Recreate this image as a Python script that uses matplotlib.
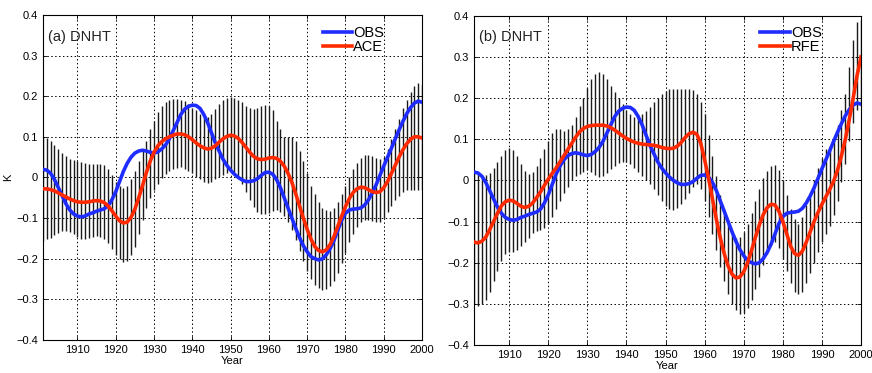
import numpy as np
import matplotlib
matplotlib.use("Agg")
from matplotlib import pyplot as plt

years = np.arange(1901, 2001)

# observed DNHT (same curve in both panels)
obs = [0.020, 0.018, 0.010, -0.005, -0.025, -0.045, -0.065, -0.080, -0.090, -0.095,
       -0.097, -0.095, -0.090, -0.087, -0.083, -0.080, -0.077, -0.070, -0.055, -0.035,
       -0.010, 0.015, 0.035, 0.050, 0.060, 0.065, 0.067, 0.065, 0.062, 0.060,
       0.063, 0.070, 0.080, 0.095, 0.115, 0.135, 0.155, 0.168, 0.175, 0.178,
       0.177, 0.170, 0.155, 0.135, 0.110, 0.085, 0.065, 0.045, 0.030, 0.018,
       0.008, 0.000, -0.006, -0.010, -0.010, -0.008, -0.003, 0.005, 0.012, 0.013,
       0.008, -0.005, -0.025, -0.050, -0.075, -0.100, -0.125, -0.148, -0.168, -0.183,
       -0.195, -0.200, -0.203, -0.200, -0.190, -0.175, -0.155, -0.130, -0.105, -0.088,
       -0.080, -0.078, -0.077, -0.075, -0.068, -0.055, -0.038, -0.018, 0.005, 0.028,
       0.050, 0.072, 0.095, 0.117, 0.138, 0.157, 0.172, 0.183, 0.188, 0.185]

# (a) ACE and its spread
ace = [-0.028, -0.028, -0.030, -0.033, -0.038, -0.043, -0.048, -0.053, -0.057, -0.060,
       -0.061, -0.061, -0.060, -0.058, -0.057, -0.058, -0.062, -0.070, -0.082, -0.095,
       -0.107, -0.112, -0.110, -0.098, -0.078, -0.050, -0.020, 0.012, 0.040, 0.062,
       0.078, 0.088, 0.095, 0.100, 0.104, 0.107, 0.107, 0.105, 0.100, 0.093,
       0.085, 0.078, 0.073, 0.070, 0.072, 0.078, 0.087, 0.095, 0.101, 0.104,
       0.102, 0.096, 0.086, 0.074, 0.062, 0.052, 0.046, 0.044, 0.045, 0.048,
       0.049, 0.047, 0.040, 0.028, 0.010, -0.012, -0.040, -0.070, -0.100, -0.128,
       -0.152, -0.170, -0.180, -0.183, -0.178, -0.165, -0.145, -0.120, -0.095, -0.072,
       -0.052, -0.037, -0.028, -0.024, -0.025, -0.030, -0.035, -0.037, -0.035, -0.025,
       -0.010, 0.010, 0.030, 0.050, 0.068, 0.083, 0.094, 0.100, 0.100, 0.097]

ace_hi = [0.100, 0.097, 0.090, 0.080, 0.070, 0.060, 0.052, 0.045, 0.042, 0.040,
          0.038, 0.035, 0.033, 0.032, 0.033, 0.033, 0.030, 0.020, 0.005, -0.010,
          -0.022, -0.025, -0.020, -0.005, 0.015, 0.040, 0.065, 0.090, 0.120, 0.140,
          0.160, 0.175, 0.185, 0.190, 0.192, 0.192, 0.190, 0.187, 0.180, 0.172,
          0.165, 0.155, 0.150, 0.150, 0.155, 0.168, 0.180, 0.190, 0.195, 0.198,
          0.195, 0.190, 0.185, 0.175, 0.170, 0.168, 0.170, 0.175, 0.178, 0.175,
          0.165, 0.140, 0.120, 0.100, 0.100, 0.100, 0.090, 0.065, 0.040, 0.010,
          -0.020, -0.040, -0.060, -0.075, -0.080, -0.082, -0.075, -0.060, -0.040, -0.020,
          0.000, 0.020, 0.035, 0.048, 0.055, 0.055, 0.053, 0.048, 0.045, 0.050,
          0.070, 0.095, 0.120, 0.145, 0.170, 0.190, 0.210, 0.225, 0.232, 0.228]

ace_lo = [-0.157, -0.152, -0.148, -0.142, -0.137, -0.133, -0.132, -0.135, -0.140, -0.147,
          -0.152, -0.152, -0.150, -0.147, -0.145, -0.147, -0.152, -0.162, -0.175, -0.190,
          -0.200, -0.207, -0.205, -0.190, -0.170, -0.140, -0.105, -0.075, -0.050, -0.030,
          -0.015, -0.002, 0.008, 0.015, 0.020, 0.024, 0.025, 0.022, 0.017, 0.010,
          0.000, -0.005, -0.010, -0.013, -0.012, -0.005, 0.000, 0.005, 0.010, 0.013,
          0.010, 0.000, -0.015, -0.035, -0.055, -0.072, -0.085, -0.090, -0.090, -0.087,
          -0.082, -0.080, -0.085, -0.095, -0.110, -0.130, -0.155, -0.180, -0.205, -0.230,
          -0.250, -0.265, -0.273, -0.277, -0.275, -0.268, -0.255, -0.235, -0.210, -0.185,
          -0.160, -0.140, -0.122, -0.110, -0.105, -0.105, -0.108, -0.110, -0.110, -0.100,
          -0.085, -0.070, -0.055, -0.045, -0.037, -0.032, -0.030, -0.030, -0.030, -0.030]

# (b) RFE and its spread
rfe = [-0.150, -0.152, -0.148, -0.138, -0.120, -0.100, -0.080, -0.062, -0.052, -0.048,
       -0.050, -0.056, -0.063, -0.066, -0.063, -0.055, -0.042, -0.028, -0.012, 0.003,
       0.017, 0.030, 0.045, 0.060, 0.075, 0.090, 0.105, 0.118, 0.126, 0.131,
       0.133, 0.134, 0.134, 0.134, 0.132, 0.128, 0.122, 0.115, 0.108, 0.102,
       0.097, 0.093, 0.090, 0.088, 0.087, 0.086, 0.085, 0.083, 0.080, 0.078,
       0.077, 0.078, 0.083, 0.092, 0.104, 0.113, 0.117, 0.112, 0.090, 0.050,
       0.005, -0.045, -0.095, -0.140, -0.178, -0.208, -0.228, -0.237, -0.235, -0.222,
       -0.200, -0.170, -0.138, -0.108, -0.083, -0.066, -0.058, -0.060, -0.075, -0.100,
       -0.130, -0.160, -0.178, -0.182, -0.172, -0.150, -0.125, -0.100, -0.078, -0.058,
       -0.040, -0.022, -0.002, 0.025, 0.060, 0.100, 0.148, 0.200, 0.255, 0.300]

rfe_hi = [0.020, 0.015, 0.010, 0.012, 0.018, 0.030, 0.045, 0.060, 0.073, 0.078,
          0.073, 0.060, 0.040, 0.022, 0.015, 0.020, 0.035, 0.055, 0.075, 0.095,
          0.115, 0.125, 0.125, 0.120, 0.125, 0.135, 0.155, 0.180, 0.200, 0.225,
          0.245, 0.258, 0.262, 0.258, 0.245, 0.230, 0.215, 0.200, 0.185, 0.172,
          0.162, 0.155, 0.155, 0.160, 0.168, 0.178, 0.190, 0.200, 0.210, 0.218,
          0.222, 0.223, 0.222, 0.222, 0.222, 0.222, 0.220, 0.210, 0.190, 0.160,
          0.110, 0.060, 0.010, -0.035, -0.075, -0.105, -0.130, -0.140, -0.138, -0.125,
          -0.105, -0.080, -0.050, -0.020, 0.005, 0.022, 0.035, 0.037, 0.025, 0.000,
          -0.035, -0.070, -0.095, -0.105, -0.090, -0.060, -0.030, 0.000, 0.030, 0.055,
          0.075, 0.080, 0.100, 0.135, 0.170, 0.210, 0.275, 0.340, 0.385, 0.390]

rfe_lo = [-0.300, -0.305, -0.300, -0.290, -0.270, -0.245, -0.220, -0.195, -0.180, -0.175,
          -0.175, -0.170, -0.160, -0.150, -0.140, -0.128, -0.122, -0.120, -0.115, -0.105,
          -0.090, -0.070, -0.050, -0.030, -0.015, 0.000, 0.010, 0.015, 0.020, 0.025,
          0.020, 0.012, 0.008, 0.010, 0.018, 0.028, 0.035, 0.042, 0.045, 0.045,
          0.040, 0.030, 0.020, 0.010, 0.000, -0.010, -0.020, -0.035, -0.050, -0.062,
          -0.070, -0.072, -0.068, -0.058, -0.045, -0.030, -0.015, -0.010, -0.020, -0.050,
          -0.090, -0.130, -0.170, -0.210, -0.245, -0.275, -0.300, -0.315, -0.325, -0.322,
          -0.310, -0.290, -0.265, -0.235, -0.205, -0.175, -0.155, -0.150, -0.165, -0.190,
          -0.220, -0.250, -0.270, -0.275, -0.270, -0.250, -0.225, -0.200, -0.175, -0.150,
          -0.130, -0.110, -0.085, -0.050, -0.005, 0.040, 0.095, 0.140, 0.170, 0.180]

xticks = [1910, 1920, 1930, 1940, 1950, 1960, 1970, 1980, 1990, 2000]
yticks = [-0.4, -0.3, -0.2, -0.1, 0, 0.1, 0.2, 0.3, 0.4]
ylabels = ["\u22120.4", "\u22120.3", "\u22120.2", "\u22120.1", "0", "0.1", "0.2", "0.3", "0.4"]

plt.rcParams['font.family'] = ['Liberation Sans', 'DejaVu Sans']

fig = plt.figure(figsize=(8.72, 3.73), dpi=100)
ax1 = fig.add_axes([0.0493, 0.0885, 0.4347, 0.8715])
ax2 = fig.add_axes([0.5436, 0.075, 0.4438, 0.883])

panels = [
    (ax1, ace, ace_lo, ace_hi, "ACE", "(a) DNHT", 0.722),
    (ax2, rfe, rfe_lo, rfe_hi, "RFE", "(b) DNHT", 0.725),
]

for ax, model, lo, hi, name, title, lx in panels:
    # spread bars
    ax.vlines(years, lo, hi, color='#1a1a1a', lw=1.0, zorder=2)
    ax.plot(years, obs, color='#1f2cff', lw=2.6, label="OBS", zorder=3)
    ax.plot(years, model, color='#ff2a00', lw=2.6, label=name, zorder=4)

    ax.set_xlim(1901, 2000)
    ax.set_ylim(-0.4, 0.4)
    ax.set_xticks(xticks)
    ax.set_yticks(yticks)
    ax.set_yticklabels(ylabels)
    ax.tick_params(direction='in', length=3, labelsize=8, top=True, right=True, width=0.6)
    ax.grid(True, color='k', linestyle=(0, (1.5, 2.5)), lw=0.7)
    for s in ax.spines.values():
        s.set_linewidth(0.8)
    ax.set_xlabel("Year", fontsize=8, labelpad=1)

    ax.text(0.013, 0.955, title, transform=ax.transAxes, fontsize=10.5,
            va='top', ha='left', color='#222222')
    ax.legend(loc='upper left', bbox_to_anchor=(lx, 0.985), frameon=False,
              fontsize=10.5, handlelength=2.0, handletextpad=0.1,
              labelspacing=0.0, borderaxespad=0.0)

ax1.set_ylabel("K", fontsize=8, labelpad=2)

fig.savefig("out.png", dpi=100)
